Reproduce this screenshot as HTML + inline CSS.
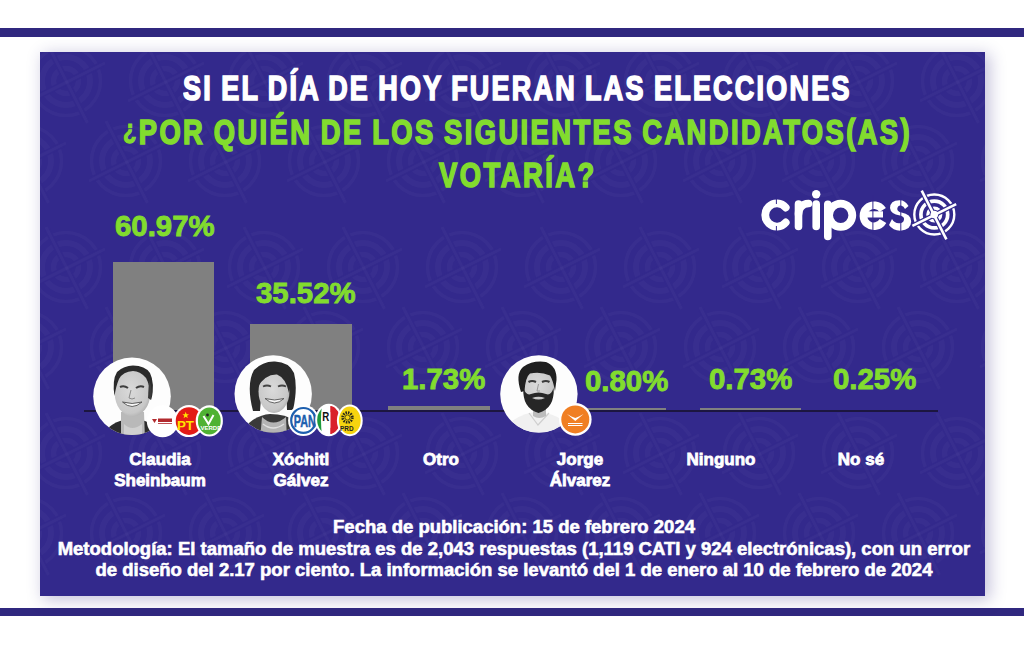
<!DOCTYPE html>
<html><head><meta charset="utf-8">
<style>
html,body{margin:0;padding:0;}
body{width:1024px;height:645px;background:#fff;position:relative;overflow:hidden;font-family:"Liberation Sans",sans-serif;}
.bar-top{position:absolute;left:0;top:28px;width:1024px;height:9px;background:#30287f;}
.bar-bot{position:absolute;left:0;top:607.5px;width:1024px;height:8.5px;background:#30287f;}
.panel{position:absolute;left:40px;top:52px;width:945px;height:544px;background:#33298c;box-shadow:4px 3px 15px 1px rgba(50,40,130,0.28);overflow:hidden;}
.t{position:absolute;white-space:nowrap;font-weight:bold;line-height:1;}
.sx{transform-origin:0 0;}
.title{color:#fff;-webkit-text-stroke:1.7px #fff;}
.green{color:#82dc2e;-webkit-text-stroke:1.7px #82dc2e;}
.bar{position:absolute;background:#808080;}
.base{position:absolute;left:84px;top:410px;width:854px;height:2px;background:#1c1640;}
.name{color:#fff;-webkit-text-stroke:0.8px #fff;font-size:17px;line-height:21px;text-align:center;width:160px;}
.foot{color:#fff;-webkit-text-stroke:0.6px #fff;font-size:18.5px;left:14px;width:1000px;text-align:center;}
.pct{font-size:29.5px;-webkit-text-stroke:0.9px #82dc2e;transform-origin:0 0;transform:scaleX(0.995);}
</style></head><body>
<div class="bar-top"></div>
<div class="bar-bot"></div>
<div class="panel"><svg width="945" height="544" style="position:absolute;left:0;top:0">
<defs><g id="ic" fill="none">
<g stroke="#fff" stroke-opacity="0.028"><circle r="34.5" stroke-width="3.5"/><circle r="24" stroke-width="6"/><circle r="12.5" stroke-width="5.5"/></g>
<g stroke="#33298c" stroke-width="6"><line x1="-18.5" y1="-37" x2="20" y2="39"/><line x1="-34" y1="18.5" x2="36" y2="-16.5"/></g>
<g stroke="#fff" stroke-opacity="0.028" stroke-width="3"><line x1="-20" y1="-40" x2="21.5" y2="42"/><line x1="-37" y1="20" x2="39" y2="-18"/></g>
</g></defs>
<use href="#ic" x="-73" y="29"/>
<use href="#ic" x="-13" y="109"/>
<use href="#ic" x="26" y="29"/>
<use href="#ic" x="86" y="109"/>
<use href="#ic" x="125" y="29"/>
<use href="#ic" x="185" y="109"/>
<use href="#ic" x="224" y="29"/>
<use href="#ic" x="284" y="109"/>
<use href="#ic" x="323" y="29"/>
<use href="#ic" x="383" y="109"/>
<use href="#ic" x="422" y="29"/>
<use href="#ic" x="482" y="109"/>
<use href="#ic" x="521" y="29"/>
<use href="#ic" x="581" y="109"/>
<use href="#ic" x="620" y="29"/>
<use href="#ic" x="680" y="109"/>
<use href="#ic" x="719" y="29"/>
<use href="#ic" x="779" y="109"/>
<use href="#ic" x="818" y="29"/>
<use href="#ic" x="878" y="109"/>
<use href="#ic" x="917" y="29"/>
<use href="#ic" x="977" y="109"/>
<use href="#ic" x="-73" y="215"/>
<use href="#ic" x="-13" y="295"/>
<use href="#ic" x="26" y="215"/>
<use href="#ic" x="86" y="295"/>
<use href="#ic" x="125" y="215"/>
<use href="#ic" x="185" y="295"/>
<use href="#ic" x="224" y="215"/>
<use href="#ic" x="284" y="295"/>
<use href="#ic" x="323" y="215"/>
<use href="#ic" x="383" y="295"/>
<use href="#ic" x="422" y="215"/>
<use href="#ic" x="482" y="295"/>
<use href="#ic" x="521" y="215"/>
<use href="#ic" x="581" y="295"/>
<use href="#ic" x="620" y="215"/>
<use href="#ic" x="680" y="295"/>
<use href="#ic" x="719" y="215"/>
<use href="#ic" x="779" y="295"/>
<use href="#ic" x="818" y="215"/>
<use href="#ic" x="878" y="295"/>
<use href="#ic" x="917" y="215"/>
<use href="#ic" x="977" y="295"/>
<use href="#ic" x="-73" y="401"/>
<use href="#ic" x="-13" y="481"/>
<use href="#ic" x="26" y="401"/>
<use href="#ic" x="86" y="481"/>
<use href="#ic" x="125" y="401"/>
<use href="#ic" x="185" y="481"/>
<use href="#ic" x="224" y="401"/>
<use href="#ic" x="284" y="481"/>
<use href="#ic" x="323" y="401"/>
<use href="#ic" x="383" y="481"/>
<use href="#ic" x="422" y="401"/>
<use href="#ic" x="482" y="481"/>
<use href="#ic" x="521" y="401"/>
<use href="#ic" x="581" y="481"/>
<use href="#ic" x="620" y="401"/>
<use href="#ic" x="680" y="481"/>
<use href="#ic" x="719" y="401"/>
<use href="#ic" x="779" y="481"/>
<use href="#ic" x="818" y="401"/>
<use href="#ic" x="878" y="481"/>
<use href="#ic" x="917" y="401"/>
<use href="#ic" x="977" y="481"/>
<use href="#ic" x="-73" y="587"/>
<use href="#ic" x="26" y="587"/>
<use href="#ic" x="125" y="587"/>
<use href="#ic" x="224" y="587"/>
<use href="#ic" x="323" y="587"/>
<use href="#ic" x="422" y="587"/>
<use href="#ic" x="521" y="587"/>
<use href="#ic" x="620" y="587"/>
<use href="#ic" x="719" y="587"/>
<use href="#ic" x="818" y="587"/>
<use href="#ic" x="917" y="587"/>
</svg></div>

<div class="t title sx" style="left:183px;top:69.5px;font-size:35px;letter-spacing:2.92px;word-spacing:-2.0px;transform:scaleX(0.77);">SI EL DÍA DE HOY FUERAN LAS ELECCIONES</div>
<div class="t green sx" style="left:123px;top:114px;font-size:35px;letter-spacing:3.13px;word-spacing:-2.0px;transform:scaleX(0.78);"><span style="font-size:28px;position:relative;top:-5.5px;-webkit-text-stroke:1.2px #82dc2e;">¿</span>POR QUIÉN DE LOS SIGUIENTES CANDIDATOS(AS)</div>
<div class="t green sx" style="left:439px;top:157px;font-size:35px;letter-spacing:3.26px;transform:scaleX(0.78);">VOTARÍA?</div>

<div class="bar" style="left:113px;top:262px;width:101px;height:148px;"></div>
<div class="bar" style="left:250px;top:324px;width:102px;height:86px;"></div>
<div class="bar" style="left:388px;top:406px;width:102px;height:4px;"></div>
<div class="bar" style="left:565px;top:408px;width:101px;height:2px;"></div>
<div class="bar" style="left:700px;top:408px;width:101px;height:2px;"></div>
<div class="base"></div>

<svg id="art" width="1024" height="645" viewBox="0 0 1024 645" style="position:absolute;left:0;top:0;">
<defs>
<radialGradient id="skin1" cx="0.45" cy="0.45" r="0.6"><stop offset="0" stop-color="#dadada"/><stop offset="0.8" stop-color="#c8c8c8"/><stop offset="1" stop-color="#adadad"/></radialGradient>
<clipPath id="c1"><circle cx="132" cy="396.3" r="38.8"/></clipPath>
<clipPath id="c2"><circle cx="273.2" cy="393.9" r="38.7"/></clipPath>
<clipPath id="c3"><circle cx="538.9" cy="393.9" r="38.7"/></clipPath>
</defs>
<!-- Claudia -->
<circle cx="132" cy="396.3" r="38.8" fill="#fdfdfd"/>
<g clip-path="url(#c1)">
  <path d="M104 440 L108 428 Q116 421 124 420 L140 420 Q149 421 155 427 L160 440 Z" fill="#2c2c2c"/>
  <path d="M121 440 L121 412 L144 412 L145 440 Z" fill="#b9b9b9"/>
  <path d="M124 424 Q132 432 142 424 L142 440 L124 440 Z" fill="#d0d0d0"/>
  <ellipse cx="132.5" cy="393" rx="17.8" ry="23.5" fill="url(#skin1)"/>
  <path d="M114.5 396 Q112 380 117 372 Q124 365.5 133 365.5 Q145 365.5 150 373 Q155 383 151.5 400 Q150 385 146 378 Q140 371 133 371 Q123 371.5 119 379 Q116 386 114.5 396 Z" fill="#2a2a2a"/>
  <path d="M149 380 Q153 388 151 400 L148 398 Z" fill="#3a3a3a"/>
  <path d="M120 387 Q124 385 128 388" stroke="#3d3d3d" stroke-width="2" fill="none"/>
  <path d="M136 388 Q140 385 144 387" stroke="#3d3d3d" stroke-width="2" fill="none"/>
  <path d="M131 390 L129 398 Q132 400 135 398" stroke="#8a8a8a" stroke-width="1" fill="none"/>
  <path d="M122.5 402 Q132 411 142 402 Q132 405 122.5 402 Z" fill="#f7f7f7" stroke="#505050" stroke-width="0.9"/>
</g>
<!-- Xochitl -->
<circle cx="273.2" cy="393.9" r="38.7" fill="#fdfdfd"/>
<g clip-path="url(#c2)">
  <path d="M244 440 L249 423 Q258 415 270 414 Q286 414 295 421 L302 440 Z" fill="#3a3a3a"/>
  <path d="M260 440 L262 417 Q273 428 286 417 L287 440 Z" fill="#b4b4b4"/>
  <path d="M263 424 Q273 432 284 424" stroke="#e0e0e0" stroke-width="1.5" fill="none"/>
  <path d="M253 411 Q246 384 254 370 Q263 361 275 361.5 Q289 362 294 373 Q298 388 293 410 L287 410 L286 385 L262 385 L260 411 Z" fill="#2a2a2a"/>
  <ellipse cx="274" cy="391.5" rx="15.5" ry="21.5" fill="url(#skin1)"/>
  <path d="M257 388 Q258 370 272 367.5 Q287 367 291 381 Q290 388 289 393 Q286 378 277 374.5 Q265 374 257 388 Z" fill="#2a2a2a"/>
  <path d="M263 386.5 Q267 384.5 271 386.5" stroke="#444" stroke-width="1.8" fill="none"/>
  <path d="M278 386.5 Q282 384.5 286 386.5" stroke="#444" stroke-width="1.8" fill="none"/>
  <path d="M265 398.5 Q274.5 407.5 284 398.5 Q274.5 401.5 265 398.5 Z" fill="#f5f5f5" stroke="#555" stroke-width="0.9"/>
</g>
<!-- Jorge -->
<circle cx="538.9" cy="393.9" r="38.7" fill="#fdfdfd"/>
<g clip-path="url(#c3)">
  <path d="M506 440 L512 421 Q525 412 538 412 Q553 413 564 421 L572 440 Z" fill="#f0f0f0"/>
  <path d="M529 413 L538 425 L549 413" stroke="#cfcfcf" stroke-width="1.2" fill="none"/>
  <path d="M533 408 L533 416 Q539 420 546 416 L546 408 Z" fill="#bcbcbc"/>
  <ellipse cx="538.5" cy="387.5" rx="16" ry="20.5" fill="url(#skin1)"/>
  <path d="M523.5 388 Q522 408 538.5 413 Q555 408 553.5 388 Q551 396 546 394 Q538.5 391 531 394 Q526 396 523.5 388 Z" fill="#262626"/>
  <path d="M532 398 Q538.5 395.5 545 398 Q538.5 401 532 398 Z" fill="#c8c8c8"/>
  <path d="M521 392 Q515 374 523 367 Q533 360 546 362 Q557 366 556.5 380 L555 391 Q553 380 550 375.5 Q541 371.5 530 373.5 Q525.5 377 524.5 391 Z" fill="#1f1f1f"/>
  <path d="M528.5 382 Q532 380 536 382" stroke="#3a3a3a" stroke-width="2.2" fill="none"/>
  <path d="M542 382 Q546 380 549.5 382" stroke="#3a3a3a" stroke-width="2.2" fill="none"/>
  <path d="M538.5 384 L537 391 L540 391" stroke="#999" stroke-width="1" fill="none"/>
</g>
<!-- Claudia logos -->
<ellipse cx="162.6" cy="421.3" rx="15.8" ry="16" fill="#fff"/>
<path d="M152 419 h5 l-2.5 4 z" fill="#b22a2e"/><rect x="158" y="418.5" width="14" height="3.5" fill="#b22a2e"/><rect x="158" y="423" width="14" height="0.8" fill="#b22a2e"/>
<ellipse cx="189" cy="421.1" rx="15.5" ry="16" fill="#fff"/>
<ellipse cx="189" cy="421.1" rx="13.3" ry="13.8" fill="#e31b16"/>
<text x="177" y="429.5" font-family="Liberation Sans" font-weight="bold" font-size="13" textLength="17" lengthAdjust="spacingAndGlyphs" fill="#ffe400">PT</text>
<path d="M185.7 411.8 L186.6 414.2 L189 414.3 L187.1 415.8 L187.8 418.2 L185.7 416.8 L183.6 418.2 L184.3 415.8 L182.4 414.3 L184.8 414.2 Z" fill="#ffe400"/>
<ellipse cx="209.3" cy="420.9" rx="13.6" ry="15.7" fill="#fff"/>
<ellipse cx="209.3" cy="420.9" rx="11.4" ry="13.5" fill="#4fb233"/>
<path d="M203.5 416 L208.5 424 L213.5 415" stroke="#fff" stroke-width="2" fill="none"/>
<circle cx="207.5" cy="415" r="1.4" fill="#222"/>
<text x="200.5" y="430" font-family="Liberation Sans" font-weight="bold" font-size="6" fill="#fff">VERDE</text>
<!-- Xochitl logos -->
<ellipse cx="303.4" cy="420.4" rx="15.3" ry="15.6" fill="#fff"/>
<ellipse cx="303.4" cy="420.4" rx="12.2" ry="12.4" fill="none" stroke="#1d5fae" stroke-width="2.2"/>
<text x="293.8" y="426.6" font-family="Liberation Sans" font-weight="bold" font-size="17" textLength="22" lengthAdjust="spacingAndGlyphs" fill="#1d5fae" stroke="#1d5fae" stroke-width="0.5">PAN</text>
<ellipse cx="328.8" cy="420" rx="13.6" ry="16.2" fill="#fff"/>
<clipPath id="pri"><ellipse cx="328.8" cy="420" rx="11.6" ry="14.2"/></clipPath>
<g clip-path="url(#pri)"><path d="M316 405 L322 405 Q320 420 322 435 L316 435 Z" fill="#1e9a3c"/><path d="M330.5 406 Q340 408 340 420 Q340 432 330.5 434 L330.5 428 Q334.5 426 334.5 420 Q334.5 414 330.5 412 Z" fill="#d9222a"/><rect x="330.5" y="406" width="5" height="28" fill="#d9222a"/></g>
<text x="322.3" y="421" font-family="Liberation Sans" font-weight="bold" font-size="12" textLength="7" lengthAdjust="spacingAndGlyphs" fill="#111">R</text>
<ellipse cx="349.8" cy="420.4" rx="12.9" ry="15.8" fill="#fff"/>
<ellipse cx="349.8" cy="420.4" rx="10.9" ry="13.8" fill="#f6d40f"/>
<circle cx="347.5" cy="417.5" r="4.8" fill="none" stroke="#2a2a1a" stroke-width="2.8" stroke-dasharray="1.5 1"/>
<circle cx="347.5" cy="417.5" r="2.6" fill="#f6d40f" stroke="#2a2a1a" stroke-width="0.8"/>
<text x="340" y="431" font-family="Liberation Sans" font-weight="bold" font-size="7" textLength="13.5" lengthAdjust="spacingAndGlyphs" fill="#222">PRD</text>
<!-- MC logo -->
<circle cx="575.3" cy="419.4" r="16.3" fill="#fff"/>
<circle cx="575.3" cy="419.4" r="14" fill="#f07f23"/>
<path d="M567 414 L575.3 421 L583.6 414 L579 416.5 L575.3 418 L571.5 416.5 Z" fill="#fff"/>
<rect x="568" y="423" width="14.5" height="1" fill="#fff"/><rect x="568" y="425" width="14.5" height="1" fill="#fff"/>
<!-- cripes logo -->
<g fill="none" stroke="#fff" stroke-width="7.8" stroke-linecap="round">
  <path d="M785.7 207.5 A11.6 11.6 0 1 0 785.7 222.5"/>
</g>
<g stroke="#fff" stroke-width="7.6" stroke-linecap="round" fill="none">
  <line x1="798.5" y1="204" x2="798.5" y2="226.5"/>
  <path d="M798.5 214 Q799 204 808.5 203.5"/>
  <line x1="816.2" y1="204" x2="816.2" y2="226.5"/>
  <line x1="827.8" y1="204.3" x2="827.8" y2="236.5"/>
</g>
<circle cx="816.2" cy="194.2" r="4.2" fill="#fff"/>
<circle cx="840.7" cy="215.2" r="11.6" fill="none" stroke="#fff" stroke-width="7.8"/>
<g fill="none" stroke="#fff" stroke-width="7.6">
  <path d="M883 221 A10.5 10.5 0 1 1 882.7 210"/>
</g>
<rect x="862" y="211.3" width="21" height="6.2" fill="#fff"/>
<path d="M908.5 206 Q905 200 899.5 200.2 Q890 200.5 890 208 Q890.5 214 900 215.5 Q904.5 216.5 904 219.5 Q903.5 223.5 899 223.3 Q894 223 892 219 L889 225 Q893 230.8 900.5 230.7 Q911 230 911.2 221.5 Q911 214 901.5 212.5 Q897 211.5 897.3 208.5 Q898 205 901 205.5 Q904 206 905 209 Z" fill="#fff"/>
<g stroke="#33298c" stroke-width="1">
  <line x1="776.4" y1="195" x2="776.4" y2="204"/>
  <line x1="776.4" y1="226" x2="776.4" y2="235"/>
  <line x1="872.9" y1="195" x2="872.9" y2="235"/>
  <line x1="900.8" y1="195" x2="900.8" y2="235"/>
</g>
<g fill="none" stroke="#fff">
  <circle cx="934.3" cy="214.5" r="20" stroke-width="2.4"/>
  <circle cx="934.3" cy="214.5" r="13.4" stroke-width="3.7"/>
  <circle cx="934.3" cy="214.5" r="6.4" stroke-width="3.3"/>
</g>
<g stroke="#33298c" stroke-width="5" stroke-linecap="butt">
  <line x1="921.7" y1="190.6" x2="946.4" y2="239.4"/>
  <line x1="912.4" y1="225.9" x2="956.2" y2="204.1"/>
</g>
<g stroke="#fff" stroke-width="2.6" stroke-linecap="butt">
  <line x1="921.7" y1="190.6" x2="946.4" y2="239.4"/>
  <line x1="912.4" y1="225.9" x2="956.2" y2="204.1"/>
</g>
<circle cx="934.3" cy="214.5" r="3.8" fill="#fff"/>
</svg>

<div class="t green pct" style="left:115px;top:211px;">60.97%</div>
<div class="t green pct" style="left:256px;top:278px;">35.52%</div>
<div class="t green pct" style="left:402px;top:364px;">1.73%</div>
<div class="t green pct" style="left:585px;top:366px;">0.80%</div>
<div class="t green pct" style="left:709px;top:364px;">0.73%</div>
<div class="t green pct" style="left:833px;top:364px;">0.25%</div>

<div class="t name" style="left:80px;top:448.6px;">Claudia<br>Sheinbaum</div>
<div class="t name" style="left:221px;top:448.6px;">Xóchitl<br>Gálvez</div>
<div class="t name" style="left:361px;top:448.6px;">Otro</div>
<div class="t name" style="left:500px;top:448.6px;">Jorge<br>Álvarez</div>
<div class="t name" style="left:641px;top:448.6px;">Ninguno</div>
<div class="t name" style="left:781px;top:448.6px;">No sé</div>

<div class="t foot" style="top:518px;">Fecha de publicación: 15 de febrero 2024</div>
<div class="t foot" style="top:539.6px;">Metodología: El tamaño de muestra es de 2,043 respuestas (1,119 CATI y 924 electrónicas), con un error</div>
<div class="t foot" style="top:560.7px;">de diseño del 2.17 por ciento. La información se levantó del 1 de enero al 10 de febrero de 2024</div>
</body></html>
